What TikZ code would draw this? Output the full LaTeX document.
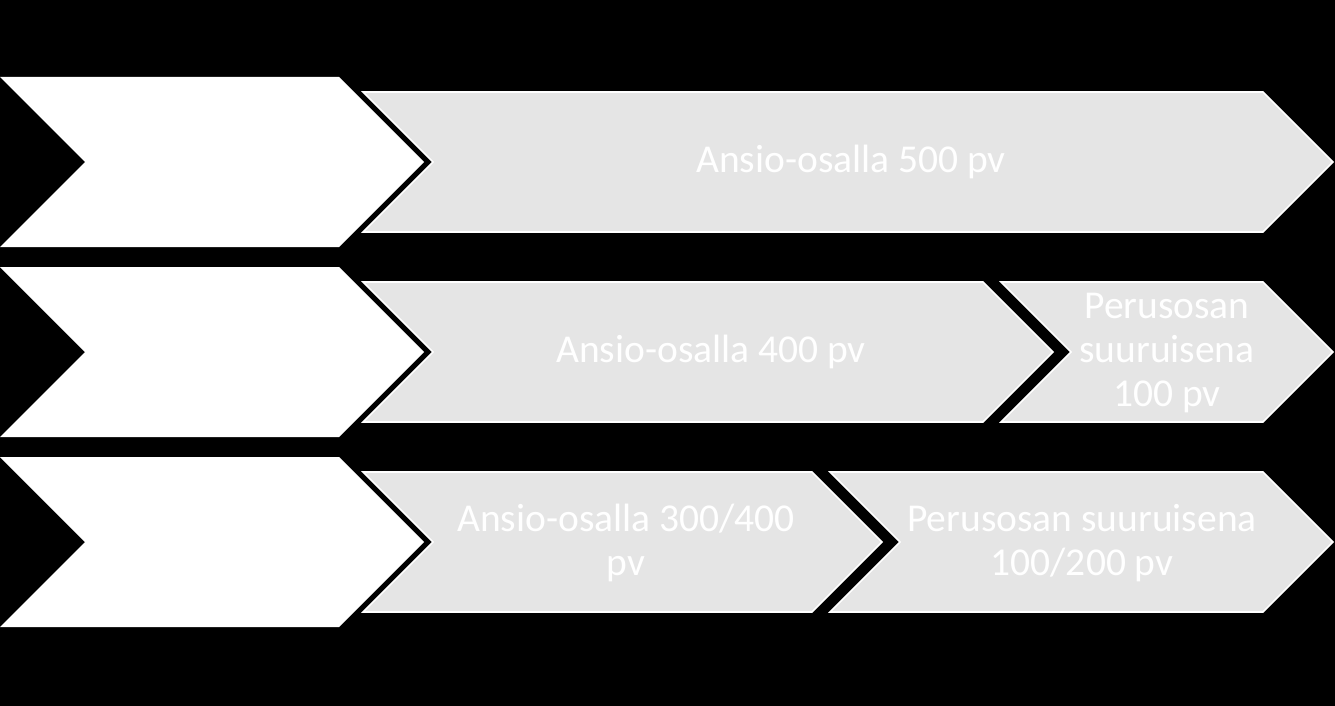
\documentclass[tikz,border=0pt]{standalone}
\usepackage{fontspec}
\setmainfont{Carlito}
\begin{document}
\begin{tikzpicture}[x=1pt,y=-1pt,
  whitechev/.style={fill=white,draw=none},
  graychev/.style={fill=black!10,draw=white,line width=1.6pt,line join=miter},
  lbl/.style={text=white,font=\fontsize{39.5}{44}\selectfont,align=center,inner sep=0pt}]
\fill[black] (0,0) rectangle (1335,706);
\useasboundingbox (0,0) rectangle (1335,706);
% white chevrons on the left
\foreach \c in {162,352,542}{
  \fill[whitechev] (0,\c-85) -- (339,\c-85) -- (424,\c) -- (339,\c+85) -- (0,\c+85) -- (85,\c) -- cycle;
}
% row 1
\draw[graychev] (363,92) -- (1263,92) -- (1333,162) -- (1263,232) -- (363,232) -- (433,162) -- cycle;
\node[lbl] (r1) at (851,162) {Ansio-osalla 500 pv};
% row 2
\draw[graychev] (363,282) -- (983,282) -- (1053,352) -- (983,422) -- (363,422) -- (433,352) -- cycle;
\draw[graychev] (1001,282) -- (1263,282) -- (1333,352) -- (1263,422) -- (1001,422) -- (1071,352) -- cycle;
\node[lbl] (r2a) at (711,352) {Ansio-osalla 400 pv};
\node[lbl] (r2b) at (1167,353) {Perusosan\\suuruisena\\100 pv};
% row 3
\draw[graychev] (363,472) -- (812,472) -- (882,542) -- (812,612) -- (363,612) -- (433,542) -- cycle;
\draw[graychev] (830,472) -- (1263,472) -- (1333,542) -- (1263,612) -- (830,612) -- (900,542) -- cycle;
\node[lbl] (r3a) at (626,543) {Ansio-osalla 300/400\\pv};
\node[lbl] (r3b) at (1082,543) {Perusosan suuruisena\\100/200 pv};
\end{tikzpicture}
\end{document}
